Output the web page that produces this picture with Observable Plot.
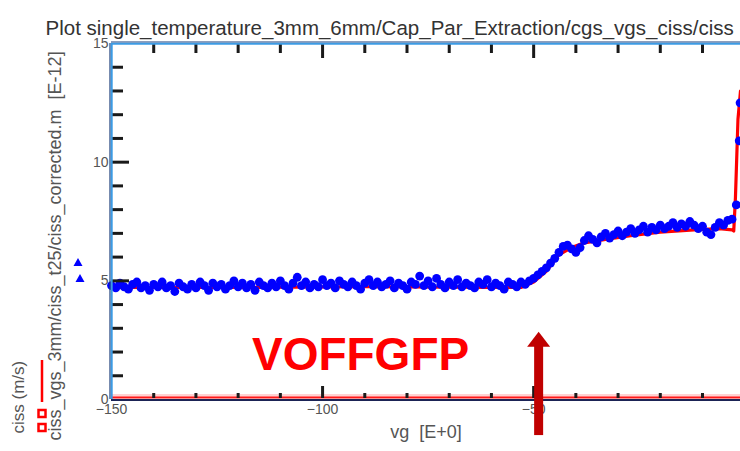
<!DOCTYPE html>
<html><head><meta charset="utf-8">
<script src="https://cdn.jsdelivr.net/npm/d3@7"></script>
<script src="https://cdn.jsdelivr.net/npm/@observablehq/plot@0.6"></script>
<style>html,body{margin:0;padding:0;background:#fff}svg{display:block}</style>
</head><body><div id="chart"></div>
<script>
// ---- text ----
const titleText = "Plot single_temperature_3mm_6mm/Cap_Par_Extraction/cgs_vgs_ciss/ciss";
const xLabel = "vg  [E+0]";
const yLabel = "ciss_vgs_3mm/ciss_t25/ciss_corrected.m  [E-12]";
const legendLabel = "ciss (m/s)";
const annotation = "VOFFGFP";

// ---- ticks ----
const xTickLabels = [-150, -100, -50];
const yTickLabels = [0, 5, 10, 15];
const xMinorTicks = [-140, -130, -120, -110, -90, -80, -70, -60, -40, -30, -20, -10];
const xMajorTicks = [-100, -50];
const yMinorTicks = [1, 2, 3, 4, 6, 7, 8, 9, 11, 12, 13, 14];
const yMajorTicks = [5, 10];

// ---- measured points (blue markers) ----
const blueX = [
  -150,-149,-148,-147,-146,-145,-144,-143,-142,-141,
  -140,-139,-138,-137,-136,-135,-134,-133,-132,-131,
  -130,-129,-128,-127,-126,-125,-124,-123,-122,-121,
  -120,-119,-118,-117,-116,-115,-114,-113,-112,-111,
  -110,-109,-108,-107,-106,-105,-104,-103,-102,-101,
  -100,-99,-98,-97,-96,-95,-94,-93,-92,-91,
  -90,-89,-88,-87,-86,-85,-84,-83,-82,-81,
  -80,-79,-78,-77,-76,-75,-74,-73,-72,-71,
  -70,-69,-68,-67,-66,-65,-64,-63,-62,-61,
  -60,-59,-58,-57,-56,-55,-54,-53,-52,-51,
  -50,-49,-48,-47,-46,-45,-44,-43,-42,-41,
  -40,-39,-38,-37,-36,-35,-34,-33,-32,-31,
  -30,-29,-28,-27,-26,-25,-24,-23,-22,-21,
  -20,-19,-18,-17,-16,-15,-14,-13,-12,-11,
  -10,-9,-8,-7,-6,-5,-4,-3,-2.0,-1.3,-1.1];
const blueY = [
  4.8,4.7,4.9,4.75,4.65,4.85,4.95,4.7,4.8,4.6,
  4.85,4.75,4.95,4.7,4.8,4.55,4.9,4.75,4.65,4.85,
  4.7,4.95,4.8,4.6,4.9,4.75,4.85,4.65,4.8,5.0,
  4.75,4.9,4.7,4.85,4.6,4.95,4.8,4.7,4.9,4.75,
  5.0,4.8,4.65,4.9,5.15,4.8,4.95,4.7,4.85,4.75,
  5.05,4.8,4.9,4.7,5.0,4.85,4.75,4.95,4.8,4.65,
  4.9,5.05,4.8,4.95,4.75,4.85,5.0,4.7,4.9,4.8,
  4.65,4.95,4.85,5.2,4.8,5.0,4.75,5.1,4.85,4.7,
  4.95,4.8,5.05,4.75,4.9,4.8,4.7,4.95,4.85,5.05,
  4.75,4.9,4.8,4.65,4.95,4.85,4.75,4.95,4.85,5.0,
  5.1,5.25,5.4,5.55,5.75,5.95,6.2,6.45,6.5,6.35,
  6.2,6.4,6.7,6.9,6.75,6.6,6.85,7.0,6.8,6.95,
  7.1,6.9,7.05,7.2,7.0,7.15,7.3,7.05,7.25,7.15,
  7.35,7.2,7.3,7.45,7.25,7.4,7.3,7.5,7.35,7.2,
  7.3,7.05,6.95,7.25,7.45,7.35,7.55,7.6,8.2,10.9,12.5];

// ---- model curve (red line) ----
const redX = [-150,-120,-90,-60,-53,-50,-47,-44,-41,-38,-33,-27,-20,-12,-6,-3,-2.6,-2.2,-1.6,-1.0];
const redY = [4.72,4.72,4.75,4.72,4.72,4.95,5.4,6.1,6.4,6.6,6.75,6.9,7.05,7.15,7.2,7.15,7.1,8.5,11.8,13.0];

// ---- annotation anchor (data units) ----
const arrowX = -48.7, arrowTip = 2.83, arrowHeadBase = 2.2, arrowTail = -1.52;
const annX = -91, annY = 1.86;

const blue = blueX.map((x, i) => ({x, y: blueY[i]}));
const red = redX.map((x, i) => ({x, y: redY[i]}));

const W = 740, H = 451, mL = 111, mR = 0, mT = 43, mB = 52;
const fh = H - mT - mB, fw = W - mL - mR;
const font = "'Liberation Sans', Arial, sans-serif";
const tickCol = "#1a1a1a";

const chart = Plot.plot({
  width: W, height: H,
  marginLeft: mL, marginRight: mR, marginTop: mT, marginBottom: mB,
  style: {fontFamily: font, background: "#fff", overflow: "visible"},
  x: {domain: [-150, -1], axis: null},
  y: {domain: [0, 15], axis: null},
  marks: [
    Plot.line(red, {x: "x", y: "y", stroke: "#ff0000", strokeWidth: 3.2, curve: "linear"}),
    Plot.dot(blue, {x: "x", y: "y", r: 4.4, fill: "#0000ff", stroke: "none"}),
    // bottom red series at 0 and axis line
    Plot.ruleY([0], {stroke: "#ffd2d2", strokeWidth: 4, dy: -3.5}),
    Plot.ruleY([0], {stroke: "#ff1a1a", strokeWidth: 1.8, dy: -2}),
    Plot.ruleY([0], {stroke: "#1b2355", strokeWidth: 2, dy: 0.5}),
    // inner ticks
    Plot.tickY(yMinorTicks, {y: d => d, insetLeft: 1, insetRight: fw - 12, stroke: tickCol, strokeWidth: 3}),
    Plot.tickY(yMajorTicks, {y: d => d, insetLeft: 1, insetRight: fw - 18, stroke: tickCol, strokeWidth: 3}),
    Plot.tickX(xMinorTicks, {x: d => d, insetTop: fh - 6, insetBottom: 1, stroke: tickCol, strokeWidth: 3}),
    Plot.tickX(xMajorTicks, {x: d => d, insetTop: fh - 13, insetBottom: 1, stroke: tickCol, strokeWidth: 3}),
    Plot.tickX(xMinorTicks, {x: d => d, insetBottom: fh - 10, insetTop: 1, stroke: tickCol, strokeWidth: 3}),
    Plot.tickX(xMajorTicks, {x: d => d, insetBottom: fh - 15, insetTop: 1, stroke: tickCol, strokeWidth: 3}),
    // frame: left and top borders
    Plot.ruleX([-150], {stroke: "#1d3f7a", strokeWidth: 1.2, dx: -1.5}),
    Plot.ruleX([-150], {stroke: "#3c9be4", strokeWidth: 2, dx: 0.2}),
    Plot.ruleY([15], {stroke: "#1d3f7a", strokeWidth: 1.2, dy: -1.5}),
    Plot.ruleY([15], {stroke: "#3c9be4", strokeWidth: 2, dy: 0.2}),
    // tick labels
    Plot.axisY(yTickLabels, {tickSize: 0, tickPadding: 3, fontSize: 14, color: "#555", label: null}),
    Plot.axisX(xTickLabels, {tickSize: 0, tickPadding: 5, fontSize: 14, color: "#555", label: null}),
    // annotation
    Plot.text([annotation], {x: annX, y: annY, text: d => d, fill: "#ff0000", fontSize: 46, fontWeight: "bold", fontFamily: font}),
    // titles
    Plot.text([titleText], {frameAnchor: "top-left", text: d => d, textAnchor: "start", dx: -66, dy: -23, fontSize: 20.5, fill: "#333"}),
    Plot.text([xLabel], {frameAnchor: "bottom", text: d => d, dy: 38, fontSize: 18, fill: "#555"}),
    Plot.text([yLabel], {frameAnchor: "bottom-left", text: d => d, rotate: -90, textAnchor: "start", dx: -51, dy: 41, fontSize: 18, fill: "#555"}),
    Plot.text([legendLabel], {frameAnchor: "bottom-left", text: d => d, rotate: -90, textAnchor: "start", dx: -88, dy: 34, fontSize: 17, fill: "#555"})
  ]
});
document.getElementById("chart").appendChild(chart);

// arrow annotation and legend glyphs, positioned through the plot's scales
const sx = chart.scale("x"), sy = chart.scale("y");
const svg = d3.select(chart);
const ax = sx.apply(arrowX), tip = sy.apply(arrowTip), hb = sy.apply(arrowHeadBase), tail = sy.apply(arrowTail);
svg.append("rect").attr("x", ax - 4.5).attr("y", hb - 1).attr("width", 9).attr("height", tail - hb + 1).attr("fill", "#c00000");
svg.append("path").attr("d", `M${ax},${tip}L${ax + 11.5},${hb}L${ax - 11.5},${hb}Z`).attr("fill", "#c00000");

const lg = svg.append("g");
lg.append("line").attr("x1", 42).attr("x2", 42).attr("y1", 360).attr("y2", 402).attr("stroke", "#ff0000").attr("stroke-width", 2.5);
[414, 428].forEach(y => lg.append("rect").attr("x", 38.5).attr("y", y - 4).attr("width", 7).attr("height", 7).attr("fill", "#fff").attr("stroke", "#ff0000").attr("stroke-width", 2.5));
[[78, 263], [80, 279]].forEach(([x, y]) => lg.append("path").attr("d", `M${x},${y - 5}L${x + 4.5},${y + 3}L${x - 4.5},${y + 3}Z`).attr("fill", "#0000ff"));
</script>
</body></html>
